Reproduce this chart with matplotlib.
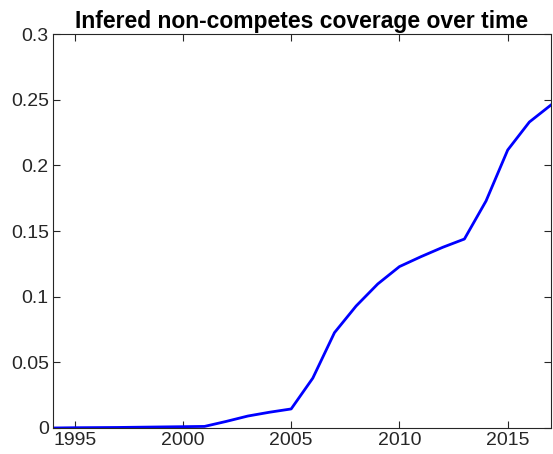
import matplotlib
matplotlib.use("Agg")
import matplotlib.pyplot as plt

years = list(range(1994, 2018))
coverage = [0.0, 0.0002, 0.0003, 0.0004, 0.0006, 0.0008, 0.001, 0.0012,
            0.005, 0.0091, 0.012, 0.0145, 0.038, 0.0726, 0.0929, 0.1097,
            0.1229, 0.1305, 0.1376, 0.1439, 0.1729, 0.2117, 0.233, 0.246]

xticks = [1995, 2000, 2005, 2010, 2015]
yticks = [0, 0.05, 0.1, 0.15, 0.2, 0.25, 0.3]
ytick_labels = ['0', '0.05', '0.1', '0.15', '0.2', '0.25', '0.3']

plt.rcParams['font.family'] = ['Liberation Sans', 'DejaVu Sans']

fig = plt.figure(figsize=(5.53, 4.54), dpi=100)
ax = fig.add_axes([0.0958, 0.0573, 0.9006, 0.8677])

ax.plot(years, coverage, color='#0000ff', lw=2.0)

ax.set_xlim(1994, 2017)
ax.set_ylim(0, 0.3)
ax.set_xticks(xticks)
ax.set_yticks(yticks)
ax.set_yticklabels(ytick_labels)

# ticks pointing inward on all four sides
ax.tick_params(direction='in', length=5, width=0.8, top=True, right=True,
               labelsize=14, colors='#262626', pad=3)
for s in ax.spines.values():
    s.set_color('#262626')
    s.set_linewidth(0.8)

ax.set_title('Infered non-competes coverage over time', fontsize=16.5,
             fontweight='bold', pad=4)

fig.savefig('out.png', dpi=100)
